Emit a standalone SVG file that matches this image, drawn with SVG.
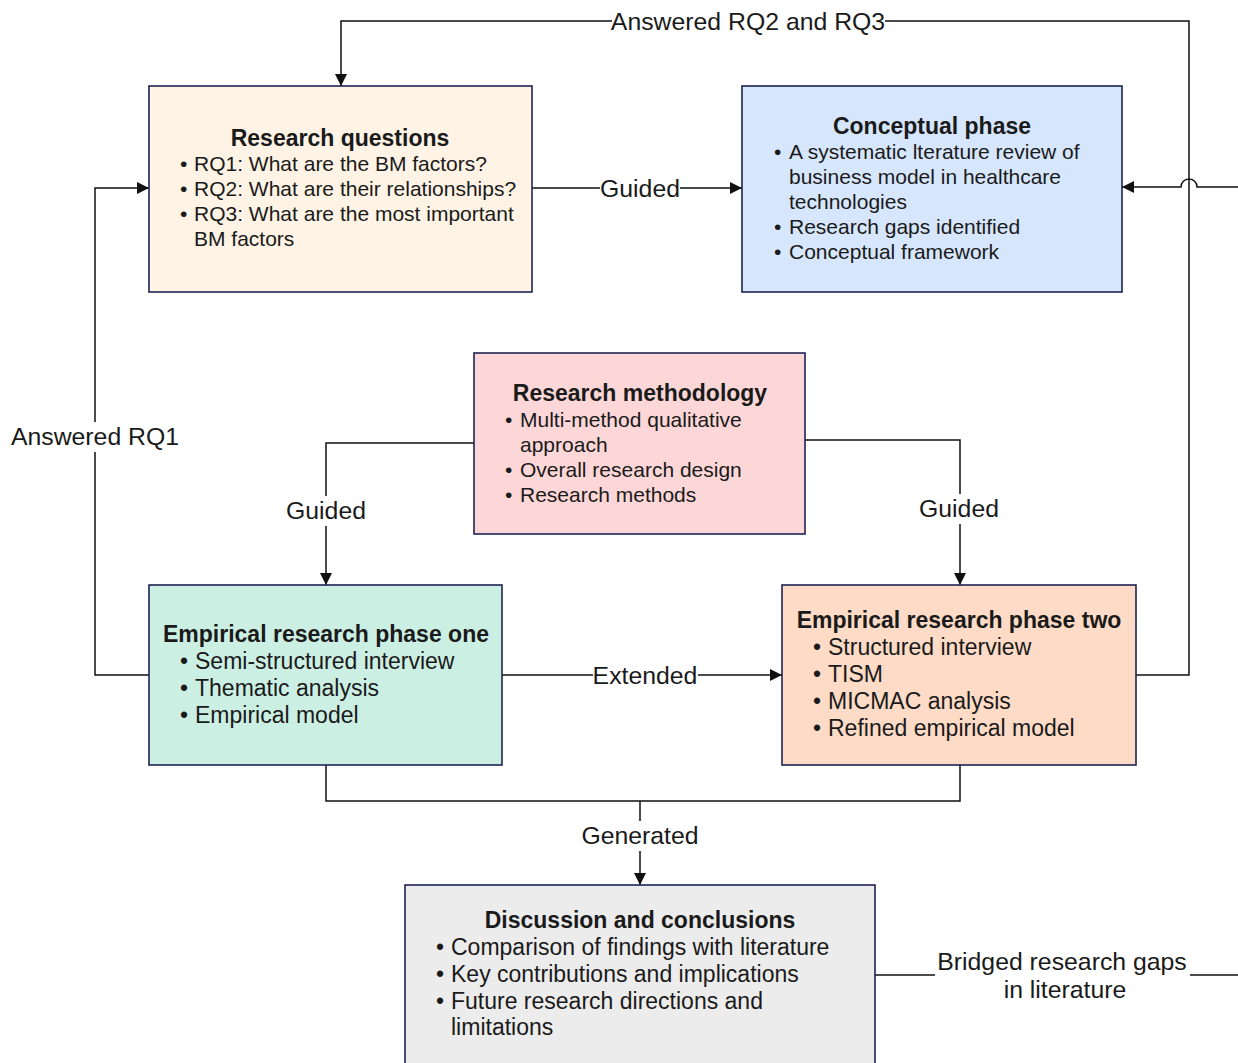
<svg xmlns="http://www.w3.org/2000/svg" width="1238" height="1063" viewBox="0 0 1238 1063">
<defs>
<marker id="arr" viewBox="0 0 10 10" refX="10" refY="5" markerWidth="12" markerHeight="12" markerUnits="userSpaceOnUse" orient="auto">
<path d="M0,0 L10,5 L0,10 z" fill="#111"/>
</marker>
<style>
.box{stroke:#1e2454;stroke-width:1.6}
.t{font-family:"Liberation Sans",Arial,sans-serif;fill:#1a1a1a}
.h{font-weight:bold;text-anchor:middle;font-size:23px}
.ln{fill:none;stroke:#111;stroke-width:1.5}
.lb{font-family:"Liberation Sans",Arial,sans-serif;fill:#1a1a1a;font-size:24.8px;text-anchor:middle}
.bg{fill:#fff}
</style>
</defs>
<rect width="1238" height="1063" fill="#fff"/>
<g id="connectors">
<path class="ln" d="M1136,675 H1189 V21 H341 V86" marker-end="url(#arr)"/>
<path class="ln" d="M532,188 H742" marker-end="url(#arr)"/>
<path class="ln" d="M1238,187 H1197 A8,8 0 0 0 1181,187 H1122" marker-end="url(#arr)"/>
<path class="ln" d="M149,675 H95 V188 H149" marker-end="url(#arr)"/>
<path class="ln" d="M474,443 H326 V585" marker-end="url(#arr)"/>
<path class="ln" d="M805,440 H960 V585" marker-end="url(#arr)"/>
<path class="ln" d="M502,675 H782" marker-end="url(#arr)"/>
<path class="ln" d="M326,765 V801 H960 V765"/>
<path class="ln" d="M640,801 V885" marker-end="url(#arr)"/>
<path class="ln" d="M875,975 H1238"/>
<rect class="bg" x="612" y="8" width="273" height="26"/>
<text class="lb" x="748" y="30">Answered RQ2 and RQ3</text>
<rect class="bg" x="600" y="175" width="80" height="26"/>
<text class="lb" x="640" y="197">Guided</text>
<rect class="bg" x="10" y="422" width="170" height="30"/>
<text class="lb" x="95" y="445">Answered RQ1</text>
<rect class="bg" x="284" y="496" width="84" height="30"/>
<text class="lb" x="326" y="519">Guided</text>
<rect class="bg" x="917" y="494" width="84" height="30"/>
<text class="lb" x="959" y="517">Guided</text>
<rect class="bg" x="593" y="662" width="105" height="26"/>
<text class="lb" x="645" y="684">Extended</text>
<rect class="bg" x="578" y="821" width="124" height="30"/>
<text class="lb" x="640" y="844">Generated</text>
<rect class="bg" x="935" y="946" width="255" height="58"/>
<text class="lb" x="1062" y="970">Bridged research gaps</text>
<text class="lb" x="1065" y="998">in literature</text>
</g>
<g id="research-questions">
<rect class="box" x="149" y="86" width="383" height="206" fill="#fef3e5"/>
<text class="t h" x="340" y="146">Research questions</text>
<g class="t" font-size="21">
<text x="180" y="171">•</text><text x="194" y="171">RQ1: What are the BM factors?</text>
<text x="180" y="196">•</text><text x="194" y="196">RQ2: What are their relationships?</text>
<text x="180" y="221">•</text><text x="194" y="221">RQ3: What are the most important</text>
<text x="194" y="246">BM factors</text>
</g>
</g>
<g id="conceptual-phase">
<rect class="box" x="742" y="86" width="380" height="206" fill="#d6e6fd"/>
<text class="t h" x="932" y="134">Conceptual phase</text>
<g class="t" font-size="21">
<text x="774" y="159">•</text><text x="789" y="159">A systematic lterature review of</text>
<text x="789" y="184">business model in healthcare</text>
<text x="789" y="209">technologies</text>
<text x="774" y="234">•</text><text x="789" y="234">Research gaps identified</text>
<text x="774" y="259">•</text><text x="789" y="259">Conceptual framework</text>
</g>
</g>
<g id="research-methodology">
<rect class="box" x="474" y="353" width="331" height="181" fill="#fdd7d7"/>
<text class="t h" x="640" y="401">Research methodology</text>
<g class="t" font-size="21">
<text x="505" y="427">•</text><text x="520" y="427">Multi-method qualitative</text>
<text x="520" y="452">approach</text>
<text x="505" y="477">•</text><text x="520" y="477">Overall research design</text>
<text x="505" y="502">•</text><text x="520" y="502">Research methods</text>
</g>
</g>
<g id="empirical-one">
<rect class="box" x="149" y="585" width="353" height="180" fill="#ccefe4"/>
<text class="t h" x="326" y="642">Empirical research phase one</text>
<g class="t" font-size="23">
<text x="180" y="669">•</text><text x="195" y="669">Semi-structured interview</text>
<text x="180" y="696">•</text><text x="195" y="696">Thematic analysis</text>
<text x="180" y="723">•</text><text x="195" y="723">Empirical model</text>
</g>
</g>
<g id="empirical-two">
<rect class="box" x="782" y="585" width="354" height="180" fill="#fedbc6"/>
<text class="t h" x="959" y="628">Empirical research phase two</text>
<g class="t" font-size="23">
<text x="813" y="655">•</text><text x="828" y="655">Structured interview</text>
<text x="813" y="682">•</text><text x="828" y="682">TISM</text>
<text x="813" y="709">•</text><text x="828" y="709">MICMAC analysis</text>
<text x="813" y="736">•</text><text x="828" y="736">Refined empirical model</text>
</g>
</g>
<g id="discussion">
<rect class="box" x="405" y="885" width="470" height="190" fill="#ececec"/>
<text class="t h" x="640" y="928">Discussion and conclusions</text>
<g class="t" font-size="23">
<text x="436" y="955">•</text><text x="451" y="955">Comparison of findings with literature</text>
<text x="436" y="982">•</text><text x="451" y="982">Key contributions and implications</text>
<text x="436" y="1009">•</text><text x="451" y="1009">Future research directions and</text>
<text x="451" y="1035">limitations</text>
</g>
</g>
</svg>
